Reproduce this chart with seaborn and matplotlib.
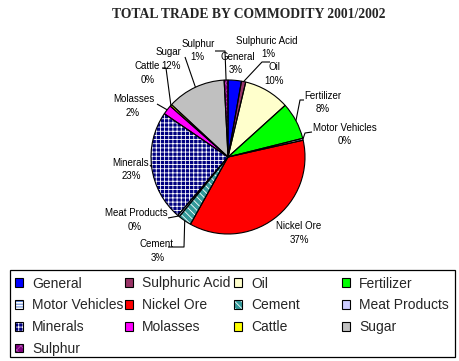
import numpy as np
import matplotlib
matplotlib.use("Agg")
import matplotlib.pyplot as plt
import seaborn as sns
from matplotlib.patches import Patch, Rectangle

# ---------------- data ----------------
categories = ["General", "Sulphuric Acid", "Oil", "Fertilizer", "Motor Vehicles",
              "Nickel Ore", "Cement", "Meat Products", "Minerals", "Molasses",
              "Cattle", "Sugar", "Sulphur"]
values = [2.8, 0.9, 9.6, 7.8, 0.4, 36.6, 2.8, 0.4, 23.2, 2.0, 0.4, 12.3, 0.8]
pct_labels = ["3%", "1%", "10%", "8%", "0%", "37%", "3%", "0%", "23%", "2%", "0%", "12%", "1%"]
title = "TOTAL TRADE BY COMMODITY 2001/2002"

# ---------------- styles ----------------
face_colors = ["#0000FF", "#993366", "#FFFFCC", "#00FF00", "#FFFFFF", "#FF0000",
               "#339999", "#CCCCFF", "#000080", "#FF00FF", "#FFFF00", "#C0C0C0", "#800080"]
hatch_colors = ["#0000FF", "#993366", "#FFFFCC", "#00FF00", "#3366CC", "#FF0000",
                "#FFFFFF", "#CCCCFF", "#FFFFFF", "#FF00FF", "#FFFF00", "#C0C0C0", "#B050B0"]
hatches = [None, None, None, None, "------", None, "\\\\\\\\\\", None, "++++",
           None, None, None, "xxxx"]

W, H = 459, 361
CX, CY, R = 228, 157, 77  # pie centre/radius in reference pixels (y down)

# label layout (reference pixels, y down): name centre, pct centre, leader points
layout = {
    "General":        ((238, 57), (236, 70), None),
    "Sulphuric Acid": ((267, 41), (268, 54), [(270, 62), (262, 62)]),
    "Oil":            ((274, 67), (274, 81), None),
    "Fertilizer":     ((323, 96), (323, 109), [(304, 100), (300, 100)]),
    "Motor Vehicles": ((345, 128), (345, 141), [(312, 132), (305, 133)]),
    "Nickel Ore":     ((299, 226), (299, 240), None),
    "Cement":         ((156, 244), (158, 258), [(168, 247), (184, 247)]),
    "Meat Products":  ((136, 213), (135, 227), [(168, 218)]),
    "Minerals":       ((131, 163), (131, 176), [(150, 165)]),
    "Molasses":       ((134, 99), (133, 113), [(157, 104)]),
    "Cattle":         ((147, 66), (148, 80), [(162, 68), (166, 68)]),
    "Sugar":          ((169, 52), (171, 66), [(185, 57)]),
    "Sulphur":        ((198, 44), (197, 57), [(215, 51), (225, 51)]),
}

sns.set_theme(style="white")
plt.rcParams["font.family"] = ["Liberation Sans", "DejaVu Sans"]
plt.rcParams["hatch.linewidth"] = 0.6

fig = plt.figure(figsize=(W / 100, H / 100), dpi=100)
fig.patch.set_facecolor("white")
ax = fig.add_axes([0, 0, 1, 1])


def fy(y):
    return H - y


# filled / hatched wedges
wedges, _ = ax.pie(values, colors=face_colors, startangle=90, counterclock=False,
                   center=(CX, fy(CY)), radius=R, wedgeprops=dict(linewidth=0))
for w, hc, hp in zip(wedges, hatch_colors, hatches):
    w.set_edgecolor(hc)
    w.set_linewidth(0)
    if hp:
        w.set_hatch(hp)
# outlines
outl, _ = ax.pie(values, colors=["none"] * len(values), startangle=90, counterclock=False,
                 center=(CX, fy(CY)), radius=R,
                 wedgeprops=dict(linewidth=0.8, edgecolor="black", fill=False))
ax.set_xlim(0, W)
ax.set_ylim(0, H)
ax.set_aspect("equal")
ax.axis("off")

# labels and leader lines
LFS = 7.0
for w, name, pct in zip(wedges, categories, pct_labels):
    (nx, ny), (px, py), leader = layout[name]
    ax.text(nx, fy(ny), name, ha="center", va="center", fontsize=LFS, color="black")
    ax.text(px, fy(py), pct, ha="center", va="center", fontsize=LFS, color="black")
    if leader:
        mid = np.deg2rad((w.theta1 + w.theta2) / 2)
        ex, ey = w.center[0] + w.r * np.cos(mid), w.center[1] + w.r * np.sin(mid)
        xs = [p[0] for p in leader] + [ex]
        ys = [fy(p[1]) for p in leader] + [ey]
        ax.plot(xs, ys, color="black", lw=0.8, solid_capstyle="butt")

# title
fig.text(248.5 / W, 1 - 18.5 / H, title, ha="center", va="baseline",
         fontsize=9.8, fontweight="bold", family=["Liberation Serif", "DejaVu Serif"])

# legend frame
ax.add_patch(Rectangle((10, fy(357)), 445, 87, fill=False, edgecolor="black",
                       lw=0.9, clip_on=False))

# legend: row-major order in 4 columns
ncol = 4
col_x = [15, 125, 234, 342]
for c in range(ncol):
    idx = list(range(c, len(categories), ncol))
    handles = []
    for i in idx:
        base = Patch(facecolor=face_colors[i], edgecolor=hatch_colors[i], lw=0,
                     hatch=hatches[i])
        frame = Patch(facecolor="none", edgecolor="black", lw=0.8)
        handles.append((base, frame))
    fig.legend(handles, [categories[i] for i in idx], loc="upper left",
               bbox_to_anchor=(col_x[c] / W, 1 - 276.5 / H), frameon=False,
               fontsize=10, handlelength=0.6, handleheight=0.6,
               handletextpad=0.65, labelspacing=0.56, borderpad=0, borderaxespad=0)

fig.savefig("out.png", dpi=100, facecolor="white")
